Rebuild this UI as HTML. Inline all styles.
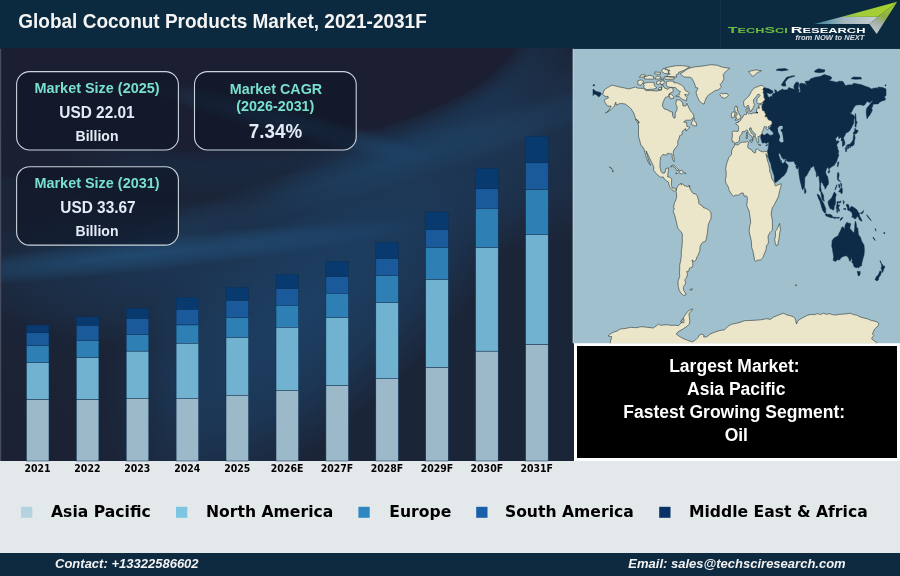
<!DOCTYPE html>
<html><head><meta charset="utf-8"><title>Global Coconut Products Market, 2021-2031F</title>
<style>
html,body{margin:0;padding:0;background:#e3e8ea;}
#wrap{position:relative;width:900px;height:576px;overflow:hidden;background:#e3e8ea;font-family:"Liberation Sans",sans-serif;}
#hdr{position:absolute;left:0;top:0;width:900px;height:48.6px;background:#0c2a3f;}
#ftr{position:absolute;left:0;top:552.8px;width:900px;height:23.2px;background:#0d2a40;}
#chartbg{position:absolute;left:0;top:48.4px;width:574px;height:413px;overflow:hidden;background:#1c2a40;}
#chartbg div{position:absolute;}
#white{position:absolute;left:574px;top:343.2px;width:326px;height:117.8px;background:#ffffff;}
#black{position:absolute;left:577.3px;top:346.4px;width:319.6px;height:111.2px;background:#000;}
svg{position:absolute;left:0;top:0;will-change:transform;}
</style></head><body>
<div id="wrap">
<div id="hdr"></div>
<div id="chartbg">
  <div style="left:0;top:0;width:574px;height:413px;background:#1b2538;"></div>
  <div style="left:10px;top:140px;width:600px;height:230px;transform:rotate(-42deg);background:radial-gradient(ellipse at 50% 50%,rgba(29,66,104,0.95) 0%,rgba(29,66,104,0.6) 40%,rgba(29,66,104,0) 72%);"></div>
  <div style="left:330px;top:-20px;width:320px;height:220px;background:radial-gradient(ellipse at 50% 50%,rgba(30,56,86,0.8) 0%,rgba(30,56,86,0.45) 45%,rgba(30,56,86,0) 72%);"></div>
  <div style="left:-40px;top:150px;width:420px;height:150px;background:radial-gradient(ellipse at 50% 50%,rgba(29,60,94,0.7) 0%,rgba(29,60,94,0.35) 45%,rgba(29,60,94,0) 72%);"></div>
  <div style="left:60px;top:96px;width:640px;height:46px;transform:rotate(-17deg);background:radial-gradient(ellipse at 50% 50%,rgba(36,92,138,0.26) 0%,rgba(36,92,138,0.13) 45%,rgba(36,92,138,0) 72%);"></div>
  <div style="left:-140px;top:190px;width:560px;height:34px;transform:rotate(-6deg);background:radial-gradient(ellipse at 50% 50%,rgba(36,92,138,0.55) 0%,rgba(36,92,138,0.25) 45%,rgba(36,92,138,0) 72%);"></div>
  <div style="left:-130px;top:-168px;width:655px;height:270px;border-radius:50%;background:#1b1f31;box-shadow:0 0 18px 8px #1b1f31, 0 0 34px 20px rgba(34,84,126,0.26);"></div>
  <div style="left:0;top:0;width:140px;height:130px;background:linear-gradient(90deg,rgba(27,31,49,1) 0%,rgba(27,31,49,0.8) 50%,rgba(27,31,49,0) 100%);"></div>
  <div style="left:140px;top:60px;width:300px;height:30px;transform:rotate(14.5deg);background:radial-gradient(ellipse at 50% 50%,rgba(36,92,138,0.42) 0%,rgba(36,92,138,0.2) 45%,rgba(36,92,138,0) 72%);"></div>
  <div style="left:-220px;top:260px;width:420px;height:300px;background:radial-gradient(ellipse at 50% 50%,rgba(27,33,50,0.95) 0%,rgba(27,33,50,0.7) 40%,rgba(27,33,50,0) 72%);"></div>
</div>
<div id="white"></div><div id="black"></div>
<div id="ftr"></div>
<svg width="900" height="576" viewBox="0 0 900 576">
<defs><clipPath id="mapclip"><rect x="572.7" y="48.8" width="327.3" height="294.4"/></clipPath></defs>
<rect x="0" y="48.8" width="1.2" height="412.2" fill="#474d60"/>
<g clip-path="url(#mapclip)">
<rect x="572.7" y="48.8" width="328" height="295" fill="#a0c0ce"/>
<path d="M764.6 87.6L766.4 88.3L768.8 88.8L772.9 91.1L773.0 92.6L770.8 93.8L766.4 92.8L767.8 95.6L767.8 96.6L769.6 97.4L770.4 96.4L772.5 96.3L772.1 94.8L773.7 93.3L775.3 93.6L774.7 89.6L776.9 91.0L777.4 92.4L779.0 91.1L782.6 89.1L783.9 90.1L787.5 89.8L788.7 87.6L791.6 88.5L794.0 89.3L795.3 90.3L794.0 88.0L793.9 86.0L795.3 83.2L796.5 82.0L798.8 82.8L798.5 85.6L798.1 89.0L799.3 89.8L798.5 93.1L800.5 91.5L800.1 89.0L799.3 84.8L800.5 83.2L803.0 83.6L805.0 84.0L807.1 86.5L805.0 81.5L809.5 80.7L810.3 79.0L815.2 77.3L820.1 76.5L824.4 74.5L825.8 75.0L830.7 76.5L831.9 78.2L829.0 80.7L831.5 81.0L836.4 82.2L839.6 81.2L842.9 81.5L844.5 84.0L845.3 85.8L847.8 85.0L852.6 84.8L853.5 83.2L861.6 84.8L864.0 85.8L869.7 87.8L871.0 89.0L876.3 87.8L878.3 89.0L877.9 87.1L882.8 87.6L886.0 89.1L886.0 95.6L884.8 96.4L884.0 96.1L885.5 98.9L885.2 100.1L882.0 100.9L879.5 102.2L878.3 103.9L875.0 103.9L873.0 104.2L872.4 107.2L871.4 107.6L872.3 110.2L871.4 112.2L869.7 115.2L868.5 116.4L867.1 118.8L866.5 115.5L866.2 112.2L866.5 108.9L867.3 107.6L869.7 104.7L872.2 101.4L873.0 99.8L869.7 102.7L867.1 101.2L864.9 104.7L863.2 105.6L860.8 104.7L855.9 105.1L853.5 108.1L851.4 112.5L849.6 112.7L851.8 114.2L853.9 115.5L854.5 117.2L853.9 119.7L853.7 123.0L852.2 126.3L849.8 130.5L847.8 132.5L846.9 132.0L845.9 133.3L845.1 135.1L843.9 137.1L843.3 137.9L843.9 139.4L844.8 142.1L844.8 144.6L843.3 145.9L842.4 146.4L842.5 144.6L842.4 142.4L842.6 140.9L841.2 140.8L841.4 137.9L840.7 137.3L838.8 138.8L838.4 136.3L838.0 135.6L836.8 137.4L835.4 138.6L836.2 140.4L836.4 141.6L837.8 140.8L839.2 141.4L838.4 142.6L837.4 143.7L836.6 145.4L837.4 146.7L837.8 149.2L838.6 150.9L838.6 152.4L837.6 153.2L838.8 154.0L838.4 156.5L837.2 159.2L836.8 161.2L835.6 163.0L834.3 165.3L832.3 166.3L830.7 167.5L829.4 168.3L829.0 169.8L828.6 167.8L827.4 167.6L826.4 169.0L825.6 172.0L826.2 174.4L827.7 176.9L828.5 181.9L828.4 184.2L826.6 186.2L826.2 187.7L825.0 189.2L824.8 186.9L823.7 185.9L822.9 183.6L821.7 182.4L821.3 181.1L820.9 182.8L820.5 186.1L820.9 188.2L821.3 191.5L822.5 193.2L823.7 196.0L823.7 198.9L824.3 201.2L823.7 201.0L822.0 198.9L821.2 194.7L821.0 192.7L819.5 190.2L819.7 186.9L819.8 183.6L819.3 180.3L819.0 176.1L817.6 175.6L816.8 177.1L816.3 176.1L816.3 172.8L815.2 170.3L814.4 168.1L814.2 166.3L813.2 166.2L811.9 167.3L810.3 167.8L810.2 169.8L809.1 170.8L807.5 174.0L806.5 175.8L804.9 177.3L804.7 181.1L804.5 186.4L803.8 188.1L803.2 188.7L802.6 190.1L801.8 187.7L801.1 184.4L800.4 181.9L799.7 178.6L799.2 175.3L798.8 172.0L798.7 168.6L798.5 166.6L797.3 169.0L796.9 169.0L795.7 166.5L796.5 165.7L795.3 164.5L794.4 162.3L793.6 161.3L791.6 161.5L789.6 161.7L786.7 161.0L785.9 158.7L784.3 159.2L783.5 159.3L781.8 157.5L780.9 155.4L780.2 153.4L779.3 153.2L778.6 154.0L779.0 156.2L780.2 159.2L780.4 160.7L780.9 161.2L781.4 160.2L781.5 162.3L781.8 163.3L783.5 163.3L785.1 161.2L785.3 159.8L785.5 162.8L787.3 164.3L788.2 166.2L787.1 169.5L786.5 172.0L785.1 173.8L784.3 175.3L782.0 176.9L779.4 179.4L776.1 182.3L774.8 182.4L774.3 178.9L774.3 176.1L772.9 172.0L771.4 167.8L770.8 163.7L769.6 161.2L768.4 157.4L767.9 154.5L767.4 151.5L767.9 149.6L768.2 148.4L768.6 146.2L768.7 143.7L769.0 142.6L767.6 142.6L766.4 143.6L764.5 142.4L763.1 143.2L761.9 142.4L761.6 140.4L761.1 139.6L760.8 137.9L760.8 136.9L760.7 135.9L760.9 135.6L761.0 134.3L762.3 133.8L763.2 135.1L765.0 135.1L766.6 133.8L768.0 133.6L769.2 134.9L770.8 135.4L773.3 134.6L773.4 133.3L772.9 132.1L771.8 131.3L770.0 129.3L769.4 128.5L770.2 127.0L770.8 126.8L771.4 125.1L770.6 125.3L772.1 123.8L771.9 121.2L770.4 120.5L768.4 119.8L767.2 117.5L767.0 116.5L765.4 117.0L765.1 115.2L766.1 114.7L764.7 112.2L764.7 111.2L762.5 110.4L762.1 108.4L761.8 108.1L762.0 105.9L762.3 104.7L763.1 103.9L764.1 104.1L763.5 103.6L762.7 103.1L762.1 103.1L763.5 101.4L765.1 99.3L763.9 97.3L763.9 94.4L763.1 92.4L763.5 90.6L762.7 89.3L763.0 88.8Z M593.0 89.1L596.2 91.5L600.3 92.4L601.4 93.8L599.5 96.4L598.7 96.8L596.2 94.8L594.2 93.9L593.0 95.6Z M593.0 84.8L594.6 84.8L594.9 85.5L593.0 85.8Z M885.0 85.0L886.0 84.8L886.0 85.8L885.0 85.8Z M781.4 84.8L782.6 86.1L785.9 86.1L785.1 82.0L788.3 78.2L794.9 76.0L793.2 75.7L786.7 77.3L783.5 81.5Z M814.4 71.9L819.3 72.7L824.2 72.0L825.0 69.9L818.5 68.7L815.2 70.4Z M851.0 78.7L855.1 79.3L861.6 79.0L860.8 77.3L853.5 77.0Z M776.1 70.2L781.8 70.9L788.3 69.9L785.1 68.5L777.8 69.0Z M855.1 113.4L855.9 115.5L856.1 120.5L857.1 122.2L855.9 125.5L856.3 126.8L855.1 127.1L855.1 123.8L855.1 119.7L854.8 117.2L855.1 114.7Z M755.8 113.2L758.0 113.2L758.1 112.0L756.6 111.7Z M846.1 147.1L847.4 146.6L849.4 146.1L850.0 147.9L851.0 146.1L852.5 146.1L853.5 145.2L854.2 144.2L854.3 141.2L855.1 137.9L854.6 134.8L853.7 135.1L853.4 137.1L853.1 139.6L852.2 141.6L851.3 142.4L850.2 143.7L849.8 144.4L847.8 144.6L846.1 146.2Z M853.5 134.6L854.4 134.1L856.1 133.8L857.9 131.8L857.7 130.0L855.9 130.0L854.9 128.1L854.7 131.3L853.6 132.1Z M846.1 147.2L846.8 148.4L846.5 151.2L845.8 151.9L845.5 149.6L845.1 148.4Z M847.4 147.2L849.0 146.7L848.8 148.1L847.8 149.1L847.2 148.2Z M838.4 161.7L838.8 162.8L837.8 167.0L837.3 165.3L837.8 162.3Z M828.0 171.6L829.4 170.3L829.9 171.0L829.0 173.1L828.0 172.6Z M804.5 187.4L805.6 189.4L806.1 191.9L805.4 193.2L804.7 193.5L804.4 190.2Z M765.8 145.4L767.6 144.4L767.2 145.6L766.0 146.1Z M837.6 172.8L838.8 172.8L839.1 176.1L838.4 177.8L838.8 180.3L840.4 181.9L840.0 180.6L838.4 180.8L837.7 179.8L837.2 177.8L837.4 176.1Z M838.8 191.9L840.0 189.4L841.7 187.2L842.4 190.2L842.2 193.0L841.5 194.0L840.4 191.9Z M840.7 182.8L841.8 184.4L841.2 186.9L840.8 185.2Z M838.8 183.9L839.8 185.2L839.8 188.2L839.1 187.2L838.7 186.1Z M834.9 189.6L836.8 184.7L836.9 186.1L835.3 189.7Z M817.1 194.2L818.9 194.9L821.1 199.0L823.7 203.5L824.6 206.0L825.8 208.5L825.6 213.1L824.6 213.1L822.5 210.1L821.3 206.0L819.9 201.0L818.5 198.5Z M825.1 214.8L826.2 213.5L827.8 214.5L829.9 214.3L831.5 215.0L832.7 216.4L832.6 217.9L829.9 217.3L827.4 216.4L826.1 215.8Z M828.2 201.0L829.0 200.7L830.1 199.3L831.5 198.2L832.7 195.5L834.3 192.0L835.1 192.7L836.4 194.9L835.6 196.4L835.4 198.5L835.6 201.8L835.1 204.8L834.3 206.0L833.9 209.8L832.7 210.1L831.9 209.0L830.3 208.8L829.0 206.0L828.2 203.5Z M837.0 202.2L837.8 201.3L839.6 201.8L841.2 200.8L840.4 202.8L838.0 202.7L837.6 205.0L838.4 205.0L839.9 205.0L838.8 206.7L838.4 207.7L839.2 209.3L839.6 211.0L838.8 211.5L838.0 208.5L837.6 208.5L837.5 212.6L836.8 212.5L836.7 209.3L836.2 208.0L837.0 203.8Z M846.1 204.8L847.4 204.2L848.6 204.8L849.4 209.0L851.4 206.2L854.3 207.8L857.1 210.0L858.3 212.6L859.7 213.5L859.2 214.8L860.0 216.8L862.0 220.6L861.6 221.3L859.6 220.1L858.3 217.1L856.7 216.4L855.9 218.8L854.3 218.6L852.6 217.1L851.8 217.4L852.5 215.1L851.8 212.6L849.8 210.8L847.8 210.3L847.6 208.1L848.6 207.3L847.4 207.8L846.4 205.8Z M860.4 212.8L862.0 212.6L863.5 210.5L863.2 212.6L861.6 214.0Z M840.0 220.6L841.2 217.9L842.9 217.4L842.1 218.9L840.4 220.4Z M833.1 217.1L834.7 217.3L836.4 217.4L838.0 217.4L839.6 217.3L838.8 218.3L836.4 218.1L834.7 218.4L833.5 218.1Z M843.3 200.5L844.3 201.8L843.7 204.3L843.3 202.7Z M843.7 208.5L845.7 208.5L846.0 209.5L843.7 209.3Z M855.5 221.3L856.3 224.2L856.5 227.2L857.8 228.2L858.3 233.4L858.6 234.9L860.6 237.5L861.4 240.5L862.4 242.5L864.0 245.0L864.4 250.3L864.0 255.0L862.8 259.1L861.8 263.3L861.5 265.8L859.6 266.6L858.6 268.2L857.3 266.9L856.3 267.9L853.9 266.6L853.1 263.3L851.8 262.6L852.2 260.8L851.7 257.6L850.2 261.3L849.6 261.1L848.6 257.9L846.5 255.8L844.5 256.0L842.1 257.1L840.4 258.3L840.0 259.8L837.2 259.8L835.6 261.6L833.7 260.6L833.1 260.4L833.7 256.6L833.1 253.3L832.5 249.2L831.8 246.7L831.9 244.2L832.1 240.8L832.7 239.7L834.5 237.7L836.4 236.7L838.4 235.5L839.0 233.4L840.0 231.7L840.8 230.1L842.1 226.7L843.5 227.6L844.1 228.2L845.0 228.2L844.9 225.9L845.7 224.1L846.9 222.3L847.8 222.9L849.8 223.4L850.9 223.8L850.2 225.9L849.8 228.4L851.4 230.1L853.1 232.6L854.1 232.4L854.7 228.4L854.8 225.1L855.1 221.8Z M857.3 271.1L858.8 271.7L860.1 271.2L860.2 273.6L859.6 275.4L858.3 275.9L857.8 274.1Z M880.1 260.6L880.7 261.6L881.8 264.6L882.6 264.6L882.8 265.9L884.8 266.1L884.4 268.2L883.6 269.1L883.4 270.7L882.2 272.6L881.7 272.1L882.0 269.9L881.0 268.7L881.7 266.6L881.4 264.1L880.3 261.6Z M880.1 270.7L881.3 271.9L881.1 273.2L880.2 275.7L878.9 277.0L878.4 279.7L877.1 280.9L875.8 280.2L875.0 279.5L876.5 276.5L878.3 274.9L879.1 272.9Z M873.0 237.0L874.2 238.4L875.4 240.5L874.6 240.0L873.4 238.4Z M883.8 232.4L884.9 232.7L884.8 233.7L883.8 233.5Z M875.1 228.4L875.7 229.4L876.1 231.1L875.6 230.4Z M866.5 214.8L868.1 216.3L870.1 218.9L871.2 220.8L870.0 219.6L867.9 217.1Z" fill="#0d2b47" stroke="#0d2b47" stroke-width="0.5" stroke-linejoin="round"/>
<path d="M602.7 94.6L604.1 90.1L606.8 88.1L612.0 85.1L617.4 86.5L624.7 88.0L628.8 89.0L635.3 87.0L637.8 88.1L643.4 88.5L645.9 90.6L651.6 90.6L656.5 91.0L661.4 90.1L662.2 84.3L664.6 88.1L667.9 89.3L669.9 87.6L672.8 87.8L673.3 91.5L669.5 93.4L668.7 96.4L665.4 97.4L663.0 102.2L662.4 105.9L664.2 108.9L667.9 110.0L670.3 111.7L672.5 112.0L672.6 115.7L674.0 118.3L675.2 117.8L675.2 113.0L676.8 110.5L677.2 107.2L675.8 104.2L676.4 99.9L679.4 99.9L682.5 102.2L682.9 105.9L685.8 105.9L686.9 103.4L689.0 108.1L690.7 111.4L692.7 113.0L694.1 117.2L692.3 118.3L690.7 120.2L685.5 120.2L683.7 122.2L686.6 122.3L686.8 126.3L689.8 127.3L687.8 129.5L685.8 131.1L685.8 128.5L685.0 129.1L682.5 131.0L681.9 132.9L682.5 134.3L679.5 135.8L679.3 137.9L678.0 140.4L677.6 142.2L678.0 144.9L676.4 146.7L674.8 148.7L673.4 151.2L673.2 153.7L674.3 159.0L674.1 161.7L672.9 160.0L672.1 157.0L672.2 154.5L671.1 153.5L669.9 154.0L667.9 153.0L666.6 155.0L665.0 154.9L663.0 154.4L660.5 157.4L660.2 160.7L659.9 166.5L661.1 171.5L662.6 173.3L665.0 172.8L665.8 168.6L668.7 167.8L668.0 173.1L667.6 176.9L669.5 177.1L671.7 178.6L671.4 185.2L672.3 188.1L674.4 188.2L676.4 189.1L675.8 189.9L674.1 191.4L673.2 190.6L671.9 189.7L669.7 186.9L668.3 181.9L665.4 180.3L663.0 176.8L660.9 177.4L657.3 174.8L653.6 170.3L653.8 167.0L650.8 160.7L647.9 154.5L646.1 150.9L647.9 157.8L650.4 165.3L648.3 162.3L646.3 157.4L644.2 149.6L643.0 147.1L641.3 146.1L640.2 142.7L639.8 140.8L638.6 136.6L638.4 132.1L638.6 126.8L638.0 123.2L639.4 122.2L635.7 118.8L633.7 113.0L631.2 108.9L628.4 106.4L625.5 104.2L621.5 103.4L619.0 103.9L616.2 105.1L615.8 102.2L614.1 106.4L610.9 109.7L606.8 112.5L605.4 113.0L608.4 110.9L611.3 106.1L607.6 106.1L605.2 102.7L604.4 100.6L605.6 98.9L608.4 98.1L608.0 96.4L605.2 96.4Z M686.6 100.7L683.7 99.8L681.3 98.9L679.3 96.4L676.0 96.8L676.0 95.6L679.7 94.6L678.9 93.4L680.5 91.8L677.6 90.1L675.6 87.6L672.8 87.6L670.3 87.3L667.5 86.8L666.6 85.3L666.2 84.0L666.6 81.5L669.9 81.0L673.6 81.2L674.0 82.8L676.4 82.7L678.5 83.6L681.3 85.1L683.7 86.8L684.6 89.0L685.4 90.6L688.6 92.3L689.4 93.1L687.8 95.3L686.2 94.3L684.6 94.6L687.0 97.6L686.6 98.9Z M643.4 87.3L646.7 89.6L654.0 89.1L656.9 87.8L654.4 85.6L654.0 82.3L648.3 82.3L643.0 83.5L644.3 85.6Z M637.8 84.5L641.0 85.3L643.9 81.5L641.0 79.8L637.8 80.7Z M676.8 77.0L671.9 76.7L666.6 76.5L667.9 74.4L670.3 74.0L668.3 72.4L669.9 70.2L665.4 69.5L665.0 68.0L669.5 66.9L676.0 65.7L682.5 65.6L689.0 66.6L689.8 67.2L687.0 68.4L685.0 69.9L681.7 71.2L678.5 72.4L678.9 73.5L676.0 74.8Z M674.4 79.0L665.4 79.5L664.6 76.5L674.4 77.3Z M663.4 84.3L660.9 84.5L660.5 82.8L658.5 84.6L656.5 84.0L656.9 81.2L660.1 80.7L660.9 82.0L661.8 80.7L664.2 80.7L664.2 82.7Z M653.6 79.2L644.3 79.0L644.3 76.7L650.0 75.2L653.6 76.5Z M668.7 73.7L664.6 73.5L661.4 71.2L663.0 68.5L666.2 69.0L668.3 70.7Z M639.4 77.3L645.1 76.8L645.1 74.8L641.0 74.8Z M654.8 74.0L660.5 74.4L660.5 72.4L654.8 71.9Z M654.8 79.0L660.1 79.0L660.5 76.3L656.5 76.3Z M660.9 79.5L663.4 79.5L663.4 78.0L661.4 78.0Z M658.1 89.6L661.4 89.6L661.8 87.6L659.3 87.3Z M674.0 98.1L670.3 98.9L668.7 94.8L671.1 93.9L673.6 96.4Z M691.2 124.3L693.9 125.8L696.4 126.0L696.6 124.5L696.0 122.2L694.2 120.8L694.3 118.0L692.9 119.7L691.5 123.0Z M635.3 119.3L637.8 120.3L639.0 123.2L637.3 122.3Z M680.1 73.7L684.1 77.0L690.7 77.3L692.3 79.0L694.7 84.0L695.5 87.3L698.0 88.1L696.0 92.3L697.2 96.4L699.2 100.6L700.4 102.2L702.9 103.7L704.1 104.1L704.9 101.4L706.1 98.1L708.6 94.8L711.0 93.4L715.1 90.6L718.3 89.8L721.6 87.0L720.0 84.8L722.0 82.3L724.0 79.0L723.2 74.8L724.8 72.4L729.7 68.2L723.2 67.4L716.7 65.2L711.0 64.7L702.1 66.1L694.7 66.9L689.0 68.2L685.8 69.9L684.1 71.5Z M719.7 94.6L721.6 96.9L722.0 97.6L724.4 98.3L727.3 96.9L728.4 95.6L727.3 93.6L724.8 93.4L722.8 93.9L721.2 93.3Z M670.4 167.1L671.9 165.3L674.0 165.2L676.4 167.5L677.9 169.1L679.1 170.0L678.0 170.5L676.3 170.5L676.0 169.1L675.2 167.8L672.9 166.6L672.1 165.8L671.1 167.0Z M678.9 172.6L679.8 170.5L681.1 170.6L682.6 170.8L683.8 172.6L682.5 173.1L681.3 174.1L680.5 173.3Z M675.8 173.0L677.4 173.3L677.0 174.0L675.8 173.6Z M684.8 172.8L686.0 173.1L685.8 173.7L684.8 173.6Z M612.5 170.0L613.4 171.1L612.8 172.1L612.5 171.0Z M609.4 166.8L610.9 167.8L612.3 169.1L611.7 168.8L610.7 168.1Z M676.4 189.1L678.0 185.6L678.9 184.9L680.9 183.2L681.3 185.2L682.5 183.6L684.1 185.6L685.8 186.1L687.4 186.6L689.0 185.7L690.3 189.4L691.9 191.9L693.1 193.5L695.5 193.9L697.3 196.0L698.6 200.5L698.8 203.5L700.0 204.8L702.1 205.5L703.3 207.7L705.7 208.3L708.2 209.6L710.8 212.1L711.2 215.9L710.8 219.3L709.4 221.8L708.2 225.1L707.8 229.2L707.3 233.4L706.1 239.7L705.3 241.5L703.3 242.0L701.6 243.5L700.0 246.7L699.9 250.5L698.4 254.6L697.0 257.0L696.0 259.9L694.7 261.4L693.1 260.8L692.0 259.9L692.9 263.8L692.6 266.9L689.4 268.2L688.8 271.2L686.6 271.6L687.6 274.1L686.3 278.2L684.6 279.9L685.9 282.8L683.3 287.3L683.7 290.3L686.2 294.5L683.7 295.6L680.9 293.1L679.3 290.6L678.2 286.5L678.0 281.2L679.7 276.5L679.5 272.9L679.7 269.1L679.7 264.9L680.5 261.6L681.3 256.6L681.3 251.6L682.1 245.8L682.3 240.0L682.3 233.9L680.9 231.7L678.0 228.4L677.4 226.4L676.7 223.4L675.2 217.1L674.4 214.3L673.3 211.8L673.3 210.6L674.4 209.0L673.6 207.2L674.4 203.0L675.4 201.0L676.7 197.2L676.4 192.7L676.1 191.5L676.5 190.2Z M689.8 289.5L692.3 288.7L691.9 290.2L690.3 290.2Z M689.3 185.7L689.9 185.6L689.8 186.7L689.2 186.7Z M734.7 144.1L737.9 145.1L740.3 142.9L741.9 142.2L745.2 142.1L747.6 141.6L748.5 142.2L748.0 144.6L747.6 146.7L748.6 148.4L751.7 149.7L752.5 151.5L755.0 153.2L755.8 152.0L755.8 149.6L757.4 148.9L759.9 150.9L763.1 152.0L764.7 151.2L765.8 151.7L767.4 151.5L767.9 154.5L767.4 157.2L766.0 153.7L766.8 157.8L767.6 161.2L768.6 163.8L769.6 168.6L769.9 172.3L770.8 173.6L771.8 178.6L773.3 181.1L774.7 182.8L774.7 184.4L775.7 186.1L777.8 184.9L781.2 183.7L781.0 186.2L779.4 191.9L778.6 196.0L776.9 199.7L774.9 203.5L773.3 206.5L772.2 208.1L771.7 211.1L771.1 214.3L771.7 216.8L772.4 220.9L772.5 227.6L772.1 230.4L769.6 233.0L768.0 236.4L768.4 240.8L768.3 243.3L766.4 245.8L766.2 249.2L764.7 253.1L762.7 257.9L760.4 259.9L757.4 260.3L755.8 261.3L754.5 260.3L754.2 257.4L752.9 251.1L751.7 247.5L751.3 240.8L749.7 234.2L749.1 230.9L749.7 225.9L750.7 222.6L750.2 218.1L749.5 213.5L749.1 211.0L746.8 206.0L746.8 204.5L747.2 201.8L747.4 197.7L746.4 195.9L744.4 196.4L743.2 193.0L741.5 193.0L740.3 193.7L737.9 195.5L736.2 194.9L733.4 196.2L731.8 194.4L730.1 192.0L728.8 189.4L728.5 187.4L727.3 185.2L725.9 183.1L725.3 179.1L726.1 176.9L726.2 172.0L725.7 168.6L726.5 164.2L727.5 161.2L728.9 157.4L730.5 155.7L731.5 154.4L731.6 151.2L732.6 148.2L734.0 147.1Z M779.6 223.4L780.5 229.2L779.8 232.6L779.0 238.4L777.8 245.0L776.3 245.8L775.1 242.5L774.7 239.2L775.6 235.9L775.3 231.7L776.9 229.6L778.6 225.9Z M795.7 284.5L796.7 285.0L796.5 286.0L795.6 285.7Z M764.6 87.6L762.3 85.6L760.4 85.5L757.4 86.8L755.0 87.6L752.5 89.8L751.3 91.5L750.1 93.9L748.5 96.4L746.8 98.1L744.0 100.6L743.6 102.2L743.8 105.1L744.4 106.6L745.2 107.2L746.4 106.9L748.0 105.1L748.6 105.6L748.9 107.2L749.4 109.2L749.9 111.4L751.1 111.4L751.1 110.2L752.8 109.5L753.1 107.6L754.6 104.7L753.6 102.7L753.5 99.8L755.0 98.1L756.8 95.9L757.6 94.4L759.2 94.3L760.1 95.4L759.4 96.6L757.0 98.8L756.8 102.2L757.8 103.9L759.9 103.6L762.1 103.1L763.5 101.4L765.1 99.3L763.9 97.3L763.9 94.4L763.1 92.4L763.5 90.6L762.7 89.3L763.0 88.8Z M762.3 104.7L759.4 104.9L758.6 105.4L758.6 107.2L759.4 106.7L759.2 108.5L757.9 107.9L757.0 108.2L756.6 109.7L756.6 111.7L755.4 113.2L754.6 113.2L754.2 112.5L752.5 113.4L751.1 114.0L749.7 113.2L748.5 113.9L747.6 113.0L747.6 112.2L748.0 109.7L748.0 107.9L746.2 108.9L746.1 111.4L746.5 112.4L746.7 113.9L746.4 114.5L745.2 114.5L743.6 115.0L743.3 115.7L742.4 118.0L741.5 118.7L741.0 119.0L740.7 120.3L739.7 121.2L738.5 121.5L738.2 121.0L738.3 122.7L737.1 122.5L735.7 123.2L736.0 124.2L737.5 125.0L738.5 126.8L738.5 129.5L738.0 131.5L736.4 131.3L733.0 131.0L732.0 132.1L732.3 134.1L732.4 136.3L731.8 139.3L732.3 140.8L732.3 142.1L733.5 141.7L734.4 142.7L734.9 143.7L735.8 142.6L737.7 142.6L738.9 141.1L739.7 139.1L739.3 137.9L740.2 135.4L742.1 133.9L742.0 132.1L742.8 131.3L744.0 131.8L745.6 130.8L746.7 129.8L747.8 130.6L748.0 132.3L749.5 134.3L750.7 135.1L752.2 137.1L752.4 138.9L752.2 140.4L752.9 140.1L753.3 138.8L752.9 137.6L753.3 136.3L754.6 136.8L752.7 133.9L751.3 133.3L750.6 131.3L749.5 130.0L749.5 128.3L750.7 127.6L750.6 128.8L751.3 128.5L751.9 130.5L753.3 132.1L754.6 133.1L755.3 134.1L755.3 136.4L755.8 137.6L756.6 139.8L756.8 140.9L757.2 142.4L757.8 142.9L758.4 142.9L758.2 141.2L759.0 140.9L758.2 139.6L758.1 137.9L758.0 136.3L758.6 136.8L759.0 136.3L760.3 135.6L760.7 135.9L760.9 135.6L761.0 134.3L762.3 133.8L762.0 132.6L762.3 131.5L762.9 130.5L763.6 128.8L764.1 127.1L764.6 126.3L765.5 126.6L766.8 127.1L766.1 128.0L766.8 129.5L767.6 129.8L768.4 128.6L769.2 128.1L768.0 127.6L768.2 126.6L769.5 126.0L770.6 125.3L772.1 123.8L771.9 121.2L770.4 120.5L768.4 119.8L767.2 117.5L767.0 116.5L765.4 117.0L765.1 115.2L766.1 114.7L764.7 112.2L764.7 111.2L762.5 110.4L762.1 108.4L761.8 108.1L762.0 105.9Z M734.9 120.3L736.7 120.0L737.9 119.5L740.6 118.5L740.9 116.0L739.7 115.5L739.4 114.5L738.3 112.2L737.9 110.7L737.1 110.5L737.9 107.9L736.7 107.7L737.1 106.2L735.4 106.2L734.6 108.1L735.0 110.5L735.4 112.2L736.7 112.4L737.1 113.9L737.1 114.9L735.8 115.0L736.1 116.4L735.3 117.5L737.1 118.2L735.8 118.8Z M734.6 116.8L734.6 114.7L735.0 112.7L734.2 111.9L732.8 111.9L731.4 113.5L731.4 117.2L731.8 118.0L733.0 117.5Z M748.5 71.5L751.7 75.7L753.3 76.3L756.6 73.2L761.5 70.7L755.8 69.9Z M749.6 140.4L752.2 139.9L751.8 142.6L749.7 141.1Z M746.2 135.6L747.4 135.1L747.4 138.4L746.3 138.8Z M746.5 132.5L747.2 132.1L747.2 134.8L746.6 134.3Z M758.6 144.4L760.9 144.9L760.7 145.4L758.7 145.1Z M609.3 346.3L611.7 336.6L608.0 336.0L609.8 334.1L613.3 332.3L617.8 330.7L620.2 329.0L625.5 328.5L630.4 327.3L635.6 327.7L641.8 326.7L647.5 327.3L653.3 328.0L656.5 325.7L658.7 324.0L660.5 325.3L666.2 324.7L671.1 325.3L675.2 325.2L678.2 325.7L680.9 323.4L682.9 320.5L683.6 317.4L685.4 314.7L687.1 312.1L689.4 310.2L692.4 308.9L692.9 309.6L690.7 311.4L688.9 313.7L689.4 317.2L689.8 320.9L689.4 323.9L687.1 326.2L682.5 329.3L678.2 331.7L676.2 334.1L679.3 336.3L681.8 337.8L687.4 340.3L692.4 341.9L695.5 340.0L696.9 338.6L698.4 337.1L698.8 335.5L701.6 334.0L704.0 335.3L703.7 337.0L706.9 336.8L710.2 334.1L715.1 332.0L720.0 330.5L724.4 329.8L728.1 326.3L731.4 324.3L735.1 323.5L740.0 322.4L744.4 320.7L748.9 320.5L755.8 320.2L761.5 319.7L766.7 318.7L770.4 319.4L772.9 317.4L776.9 315.7L780.2 314.4L783.5 313.2L786.7 314.9L790.0 315.6L793.3 316.7L795.3 318.9L796.5 324.0L797.7 321.4L798.7 320.0L801.4 318.5L804.2 316.9L807.6 315.2L811.1 314.4L814.4 314.7L817.6 313.6L820.5 314.6L823.6 313.1L826.6 314.4L829.4 313.6L832.3 314.6L836.0 315.1L838.8 314.4L842.9 314.1L846.1 313.9L850.2 313.2L853.5 314.6L856.7 315.1L860.0 316.9L864.4 318.2L868.1 319.0L871.4 320.5L875.0 321.2L877.8 322.4L878.9 324.0L877.9 326.2L874.6 329.0L872.4 334.1L873.8 335.5L871.5 338.6L873.8 340.6L876.9 342.6L877.1 346.3Z M680.5 321.9L682.9 318.4L684.1 319.7L683.7 323.0Z" fill="#ebe6ca" stroke="#2b3838" stroke-width="0.6" stroke-linejoin="round"/>
<path d="M777.8 128.0L779.4 126.3L781.0 125.8L782.6 126.0L782.6 128.8L781.0 129.6L780.4 130.0L782.2 132.6L782.5 134.6L783.0 137.1L783.5 142.1L781.0 142.6L779.4 141.1L779.2 139.6L780.2 136.6L779.0 133.8L778.2 132.1L777.8 129.6Z" fill="#a0c0ce"/>
<path d="M755.8 113.2L758.0 113.2L758.1 112.0L756.6 111.7Z" fill="#0d2b47"/>
</g>
<rect x="572.7" y="48.8" width="1.2" height="294.4" fill="#b6cbd7"/>
<rect x="26.4" y="325.0" width="22.6" height="7.8" fill="#083a70" stroke="#0c2f55" stroke-width="0.5"/>
<rect x="26.4" y="332.8" width="22.6" height="12.7" fill="#1a5a9b" stroke="#0c2f55" stroke-width="0.5"/>
<rect x="26.4" y="345.5" width="22.6" height="17.0" fill="#2e80b4" stroke="#0c2f55" stroke-width="0.5"/>
<rect x="26.4" y="362.5" width="22.6" height="37.0" fill="#70b2d0" stroke="#0c2f55" stroke-width="0.5"/>
<rect x="26.4" y="399.5" width="22.6" height="61.5" fill="#9bb9c8" stroke="#0c2f55" stroke-width="0.5"/>
<rect x="76.3" y="317.0" width="22.6" height="8.5" fill="#083a70" stroke="#0c2f55" stroke-width="0.5"/>
<rect x="76.3" y="325.5" width="22.6" height="15.0" fill="#1a5a9b" stroke="#0c2f55" stroke-width="0.5"/>
<rect x="76.3" y="340.5" width="22.6" height="17.0" fill="#2e80b4" stroke="#0c2f55" stroke-width="0.5"/>
<rect x="76.3" y="357.5" width="22.6" height="42.0" fill="#70b2d0" stroke="#0c2f55" stroke-width="0.5"/>
<rect x="76.3" y="399.5" width="22.6" height="61.5" fill="#9bb9c8" stroke="#0c2f55" stroke-width="0.5"/>
<rect x="126.2" y="308.3" width="22.6" height="10.2" fill="#083a70" stroke="#0c2f55" stroke-width="0.5"/>
<rect x="126.2" y="318.5" width="22.6" height="16.0" fill="#1a5a9b" stroke="#0c2f55" stroke-width="0.5"/>
<rect x="126.2" y="334.5" width="22.6" height="16.7" fill="#2e80b4" stroke="#0c2f55" stroke-width="0.5"/>
<rect x="126.2" y="351.2" width="22.6" height="47.1" fill="#70b2d0" stroke="#0c2f55" stroke-width="0.5"/>
<rect x="126.2" y="398.3" width="22.6" height="62.7" fill="#9bb9c8" stroke="#0c2f55" stroke-width="0.5"/>
<rect x="176.1" y="297.5" width="22.6" height="12.0" fill="#083a70" stroke="#0c2f55" stroke-width="0.5"/>
<rect x="176.1" y="309.5" width="22.6" height="15.5" fill="#1a5a9b" stroke="#0c2f55" stroke-width="0.5"/>
<rect x="176.1" y="325.0" width="22.6" height="18.3" fill="#2e80b4" stroke="#0c2f55" stroke-width="0.5"/>
<rect x="176.1" y="343.3" width="22.6" height="55.0" fill="#70b2d0" stroke="#0c2f55" stroke-width="0.5"/>
<rect x="176.1" y="398.3" width="22.6" height="62.7" fill="#9bb9c8" stroke="#0c2f55" stroke-width="0.5"/>
<rect x="226.0" y="287.2" width="22.6" height="13.3" fill="#083a70" stroke="#0c2f55" stroke-width="0.5"/>
<rect x="226.0" y="300.5" width="22.6" height="17.0" fill="#1a5a9b" stroke="#0c2f55" stroke-width="0.5"/>
<rect x="226.0" y="317.5" width="22.6" height="20.0" fill="#2e80b4" stroke="#0c2f55" stroke-width="0.5"/>
<rect x="226.0" y="337.5" width="22.6" height="57.8" fill="#70b2d0" stroke="#0c2f55" stroke-width="0.5"/>
<rect x="226.0" y="395.3" width="22.6" height="65.7" fill="#9bb9c8" stroke="#0c2f55" stroke-width="0.5"/>
<rect x="276.0" y="274.5" width="22.6" height="14.2" fill="#083a70" stroke="#0c2f55" stroke-width="0.5"/>
<rect x="276.0" y="288.7" width="22.6" height="16.6" fill="#1a5a9b" stroke="#0c2f55" stroke-width="0.5"/>
<rect x="276.0" y="305.3" width="22.6" height="22.0" fill="#2e80b4" stroke="#0c2f55" stroke-width="0.5"/>
<rect x="276.0" y="327.3" width="22.6" height="63.0" fill="#70b2d0" stroke="#0c2f55" stroke-width="0.5"/>
<rect x="276.0" y="390.3" width="22.6" height="70.7" fill="#9bb9c8" stroke="#0c2f55" stroke-width="0.5"/>
<rect x="325.9" y="261.3" width="22.6" height="15.4" fill="#083a70" stroke="#0c2f55" stroke-width="0.5"/>
<rect x="325.9" y="276.7" width="22.6" height="16.6" fill="#1a5a9b" stroke="#0c2f55" stroke-width="0.5"/>
<rect x="325.9" y="293.3" width="22.6" height="24.2" fill="#2e80b4" stroke="#0c2f55" stroke-width="0.5"/>
<rect x="325.9" y="317.5" width="22.6" height="68.0" fill="#70b2d0" stroke="#0c2f55" stroke-width="0.5"/>
<rect x="325.9" y="385.5" width="22.6" height="75.5" fill="#9bb9c8" stroke="#0c2f55" stroke-width="0.5"/>
<rect x="375.8" y="242.5" width="22.6" height="16.2" fill="#083a70" stroke="#0c2f55" stroke-width="0.5"/>
<rect x="375.8" y="258.7" width="22.6" height="16.8" fill="#1a5a9b" stroke="#0c2f55" stroke-width="0.5"/>
<rect x="375.8" y="275.5" width="22.6" height="27.0" fill="#2e80b4" stroke="#0c2f55" stroke-width="0.5"/>
<rect x="375.8" y="302.5" width="22.6" height="75.8" fill="#70b2d0" stroke="#0c2f55" stroke-width="0.5"/>
<rect x="375.8" y="378.3" width="22.6" height="82.7" fill="#9bb9c8" stroke="#0c2f55" stroke-width="0.5"/>
<rect x="425.7" y="212.0" width="22.6" height="17.7" fill="#083a70" stroke="#0c2f55" stroke-width="0.5"/>
<rect x="425.7" y="229.7" width="22.6" height="17.8" fill="#1a5a9b" stroke="#0c2f55" stroke-width="0.5"/>
<rect x="425.7" y="247.5" width="22.6" height="32.0" fill="#2e80b4" stroke="#0c2f55" stroke-width="0.5"/>
<rect x="425.7" y="279.5" width="22.6" height="88.0" fill="#70b2d0" stroke="#0c2f55" stroke-width="0.5"/>
<rect x="425.7" y="367.5" width="22.6" height="93.5" fill="#9bb9c8" stroke="#0c2f55" stroke-width="0.5"/>
<rect x="475.6" y="168.3" width="22.6" height="20.5" fill="#083a70" stroke="#0c2f55" stroke-width="0.5"/>
<rect x="475.6" y="188.8" width="22.6" height="19.5" fill="#1a5a9b" stroke="#0c2f55" stroke-width="0.5"/>
<rect x="475.6" y="208.3" width="22.6" height="39.2" fill="#2e80b4" stroke="#0c2f55" stroke-width="0.5"/>
<rect x="475.6" y="247.5" width="22.6" height="103.7" fill="#70b2d0" stroke="#0c2f55" stroke-width="0.5"/>
<rect x="475.6" y="351.2" width="22.6" height="109.8" fill="#9bb9c8" stroke="#0c2f55" stroke-width="0.5"/>
<rect x="525.6" y="136.3" width="22.6" height="26.5" fill="#083a70" stroke="#0c2f55" stroke-width="0.5"/>
<rect x="525.6" y="162.8" width="22.6" height="26.7" fill="#1a5a9b" stroke="#0c2f55" stroke-width="0.5"/>
<rect x="525.6" y="189.5" width="22.6" height="45.0" fill="#2e80b4" stroke="#0c2f55" stroke-width="0.5"/>
<rect x="525.6" y="234.5" width="22.6" height="110.0" fill="#70b2d0" stroke="#0c2f55" stroke-width="0.5"/>
<rect x="525.6" y="344.5" width="22.6" height="116.5" fill="#9bb9c8" stroke="#0c2f55" stroke-width="0.5"/>
<rect x="16.6" y="71.6" width="161.8" height="78.4" rx="13" ry="13" fill="rgba(12,20,36,0.55)" stroke="#c9d3dc" stroke-width="1.1"/><rect x="16.6" y="166.7" width="161.8" height="78.4" rx="13" ry="13" fill="rgba(12,20,36,0.55)" stroke="#c9d3dc" stroke-width="1.1"/><rect x="194.5" y="71.6" width="161.7" height="78.4" rx="13" ry="13" fill="rgba(12,20,36,0.55)" stroke="#c9d3dc" stroke-width="1.1"/>
<rect x="21" y="506.8" width="11.3" height="11" fill="#b3d3e1"/><rect x="176" y="506.8" width="11.3" height="11" fill="#7ec5e3"/><rect x="358.4" y="506.8" width="11.3" height="11" fill="#2f87c1"/><rect x="476.2" y="506.8" width="11.3" height="11" fill="#1a5fa9"/><rect x="659.2" y="506.8" width="11.3" height="11" fill="#0a3166"/>
<g>
<defs>
<linearGradient id="lgGrey" x1="814" y1="0" x2="878" y2="0" gradientUnits="userSpaceOnUse"><stop offset="0" stop-color="#2f7f95"/><stop offset="0.45" stop-color="#9fb4bd"/><stop offset="1" stop-color="#c9cfd3"/></linearGradient>
<linearGradient id="lgGreen" x1="835" y1="0" x2="897" y2="0" gradientUnits="userSpaceOnUse"><stop offset="0" stop-color="#7fb86a"/><stop offset="0.4" stop-color="#a2cd3a"/><stop offset="1" stop-color="#a8d030"/></linearGradient>
<linearGradient id="lgWing" x1="890" y1="8" x2="876" y2="34" gradientUnits="userSpaceOnUse"><stop offset="0" stop-color="#9cc437"/><stop offset="0.38" stop-color="#8fae45"/><stop offset="0.62" stop-color="#a3afa6"/><stop offset="1" stop-color="#c3c9cd"/></linearGradient>
</defs>
<rect x="720" y="0" width="0.8" height="48.4" fill="#163349"/>
<polygon points="814.4,23.9 841,17 878,16.8 869.4,23.9" fill="url(#lgGrey)"/>
<polygon points="841,17 897.2,1.7 878,16.8" fill="url(#lgGreen)"/>
<polygon points="897.2,1.7 876.7,33.9 869.4,23.9 878,16.8" fill="url(#lgWing)"/>
<text x="727.8" y="32.9" font-family="'Liberation Sans', sans-serif" font-weight="bold" fill="#6cbf45" textLength="60" lengthAdjust="spacingAndGlyphs"><tspan font-size="9.6">T</tspan><tspan font-size="7.6">ECH</tspan><tspan font-size="9.6">S</tspan><tspan font-size="7.6">CI</tspan></text>
<text x="790.7" y="32.9" font-family="'Liberation Sans', sans-serif" font-weight="bold" fill="#ffffff" textLength="74.8" lengthAdjust="spacingAndGlyphs"><tspan font-size="9.6">R</tspan><tspan font-size="7.6">ESEARCH</tspan></text>
<text x="795.5" y="39.8" font-family="'Liberation Sans', sans-serif" font-style="italic" font-weight="bold" font-size="6.7" fill="#d9e0e6" textLength="69" lengthAdjust="spacingAndGlyphs">from NOW to NEXT</text>
</g>
<text transform="translate(18.3 28.3) scale(0.98 1)" font-family="'Liberation Sans', sans-serif" font-size="19.4" font-weight="bold" font-style="normal" fill="#f4f4f4" text-anchor="start" >Global Coconut Products Market, 2021-2031F</text>
<text transform="translate(97.0 92.9) scale(0.95 1)" font-family="'Liberation Sans', sans-serif" font-size="15.2" font-weight="bold" font-style="normal" fill="#78e0cc" text-anchor="middle" >Market Size (2025)</text>
<text transform="translate(97.0 117.8) scale(0.95 1)" font-family="'Liberation Sans', sans-serif" font-size="16.2" font-weight="bold" font-style="normal" fill="#e3ecf6" text-anchor="middle" >USD 22.01</text>
<text transform="translate(97.0 140.7) scale(0.95 1)" font-family="'Liberation Sans', sans-serif" font-size="14.8" font-weight="bold" font-style="normal" fill="#e3ecf6" text-anchor="middle" >Billion</text>
<text transform="translate(97.0 188.1) scale(0.95 1)" font-family="'Liberation Sans', sans-serif" font-size="15.2" font-weight="bold" font-style="normal" fill="#78e0cc" text-anchor="middle" >Market Size (2031)</text>
<text transform="translate(98.0 213.0) scale(0.95 1)" font-family="'Liberation Sans', sans-serif" font-size="16.2" font-weight="bold" font-style="normal" fill="#e3ecf6" text-anchor="middle" >USD 33.67</text>
<text transform="translate(97.0 235.9) scale(0.95 1)" font-family="'Liberation Sans', sans-serif" font-size="14.8" font-weight="bold" font-style="normal" fill="#e3ecf6" text-anchor="middle" >Billion</text>
<text transform="translate(276.0 93.8) scale(0.95 1)" font-family="'Liberation Sans', sans-serif" font-size="15.1" font-weight="bold" font-style="normal" fill="#78e0cc" text-anchor="middle" >Market CAGR</text>
<text transform="translate(275.3 110.7) scale(0.95 1)" font-family="'Liberation Sans', sans-serif" font-size="15.1" font-weight="bold" font-style="normal" fill="#78e0cc" text-anchor="middle" >(2026-2031)</text>
<text transform="translate(275.5 137.8) scale(0.95 1)" font-family="'Liberation Sans', sans-serif" font-size="19.8" font-weight="bold" font-style="normal" fill="#e3ecf6" text-anchor="middle" >7.34%</text>
<text transform="translate(734.4 372.1) scale(0.95 1)" font-family="'Liberation Sans', sans-serif" font-size="18.45" font-weight="bold" font-style="normal" fill="#ffffff" text-anchor="middle" >Largest Market:</text>
<text transform="translate(736.2 394.5) scale(0.95 1)" font-family="'Liberation Sans', sans-serif" font-size="18.45" font-weight="bold" font-style="normal" fill="#ffffff" text-anchor="middle" >Asia Pacific</text>
<text transform="translate(734.2 417.8) scale(0.95 1)" font-family="'Liberation Sans', sans-serif" font-size="18.45" font-weight="bold" font-style="normal" fill="#ffffff" text-anchor="middle" >Fastest Growing Segment:</text>
<text transform="translate(736.3 440.7) scale(0.95 1)" font-family="'Liberation Sans', sans-serif" font-size="18.45" font-weight="bold" font-style="normal" fill="#ffffff" text-anchor="middle" >Oil</text>
<text transform="translate(37.5 472.2) scale(0.95 1)" font-family="'DejaVu Sans', sans-serif" font-size="9.9" font-weight="bold" font-style="normal" fill="#000" text-anchor="middle" >2021</text>
<text transform="translate(87.4 472.2) scale(0.95 1)" font-family="'DejaVu Sans', sans-serif" font-size="9.9" font-weight="bold" font-style="normal" fill="#000" text-anchor="middle" >2022</text>
<text transform="translate(137.3 472.2) scale(0.95 1)" font-family="'DejaVu Sans', sans-serif" font-size="9.9" font-weight="bold" font-style="normal" fill="#000" text-anchor="middle" >2023</text>
<text transform="translate(187.3 472.2) scale(0.95 1)" font-family="'DejaVu Sans', sans-serif" font-size="9.9" font-weight="bold" font-style="normal" fill="#000" text-anchor="middle" >2024</text>
<text transform="translate(237.2 472.2) scale(0.95 1)" font-family="'DejaVu Sans', sans-serif" font-size="9.9" font-weight="bold" font-style="normal" fill="#000" text-anchor="middle" >2025</text>
<text transform="translate(287.1 472.2) scale(0.95 1)" font-family="'DejaVu Sans', sans-serif" font-size="9.9" font-weight="bold" font-style="normal" fill="#000" text-anchor="middle" >2026E</text>
<text transform="translate(337.0 472.2) scale(0.95 1)" font-family="'DejaVu Sans', sans-serif" font-size="9.9" font-weight="bold" font-style="normal" fill="#000" text-anchor="middle" >2027F</text>
<text transform="translate(386.9 472.2) scale(0.95 1)" font-family="'DejaVu Sans', sans-serif" font-size="9.9" font-weight="bold" font-style="normal" fill="#000" text-anchor="middle" >2028F</text>
<text transform="translate(436.9 472.2) scale(0.95 1)" font-family="'DejaVu Sans', sans-serif" font-size="9.9" font-weight="bold" font-style="normal" fill="#000" text-anchor="middle" >2029F</text>
<text transform="translate(486.8 472.2) scale(0.95 1)" font-family="'DejaVu Sans', sans-serif" font-size="9.9" font-weight="bold" font-style="normal" fill="#000" text-anchor="middle" >2030F</text>
<text transform="translate(536.7 472.2) scale(0.95 1)" font-family="'DejaVu Sans', sans-serif" font-size="9.9" font-weight="bold" font-style="normal" fill="#000" text-anchor="middle" >2031F</text>
<text transform="translate(51.0 517.1) scale(0.95 1)" font-family="'DejaVu Sans', sans-serif" font-size="16.45" font-weight="bold" font-style="normal" fill="#000" text-anchor="start" >Asia Pacific</text>
<text transform="translate(206.0 517.1) scale(0.95 1)" font-family="'DejaVu Sans', sans-serif" font-size="16.45" font-weight="bold" font-style="normal" fill="#000" text-anchor="start" >North America</text>
<text transform="translate(389.3 517.1) scale(0.95 1)" font-family="'DejaVu Sans', sans-serif" font-size="16.45" font-weight="bold" font-style="normal" fill="#000" text-anchor="start" >Europe</text>
<text transform="translate(504.9 517.1) scale(0.95 1)" font-family="'DejaVu Sans', sans-serif" font-size="16.45" font-weight="bold" font-style="normal" fill="#000" text-anchor="start" >South America</text>
<text transform="translate(688.9 517.1) scale(0.95 1)" font-family="'DejaVu Sans', sans-serif" font-size="16.45" font-weight="bold" font-style="normal" fill="#000" text-anchor="start" >Middle East &amp; Africa</text>
<text transform="translate(55.0 567.6) scale(0.95 1)" font-family="'Liberation Sans', sans-serif" font-size="13.7" font-weight="bold" font-style="italic" fill="#f2f2f2" text-anchor="start" >Contact: +13322586602</text>
<text transform="translate(628.3 568.2) scale(0.95 1)" font-family="'Liberation Sans', sans-serif" font-size="13.7" font-weight="bold" font-style="italic" fill="#f2f2f2" text-anchor="start" >Email: sales@techsciresearch.com</text>
</svg>
</div>
</body></html>
